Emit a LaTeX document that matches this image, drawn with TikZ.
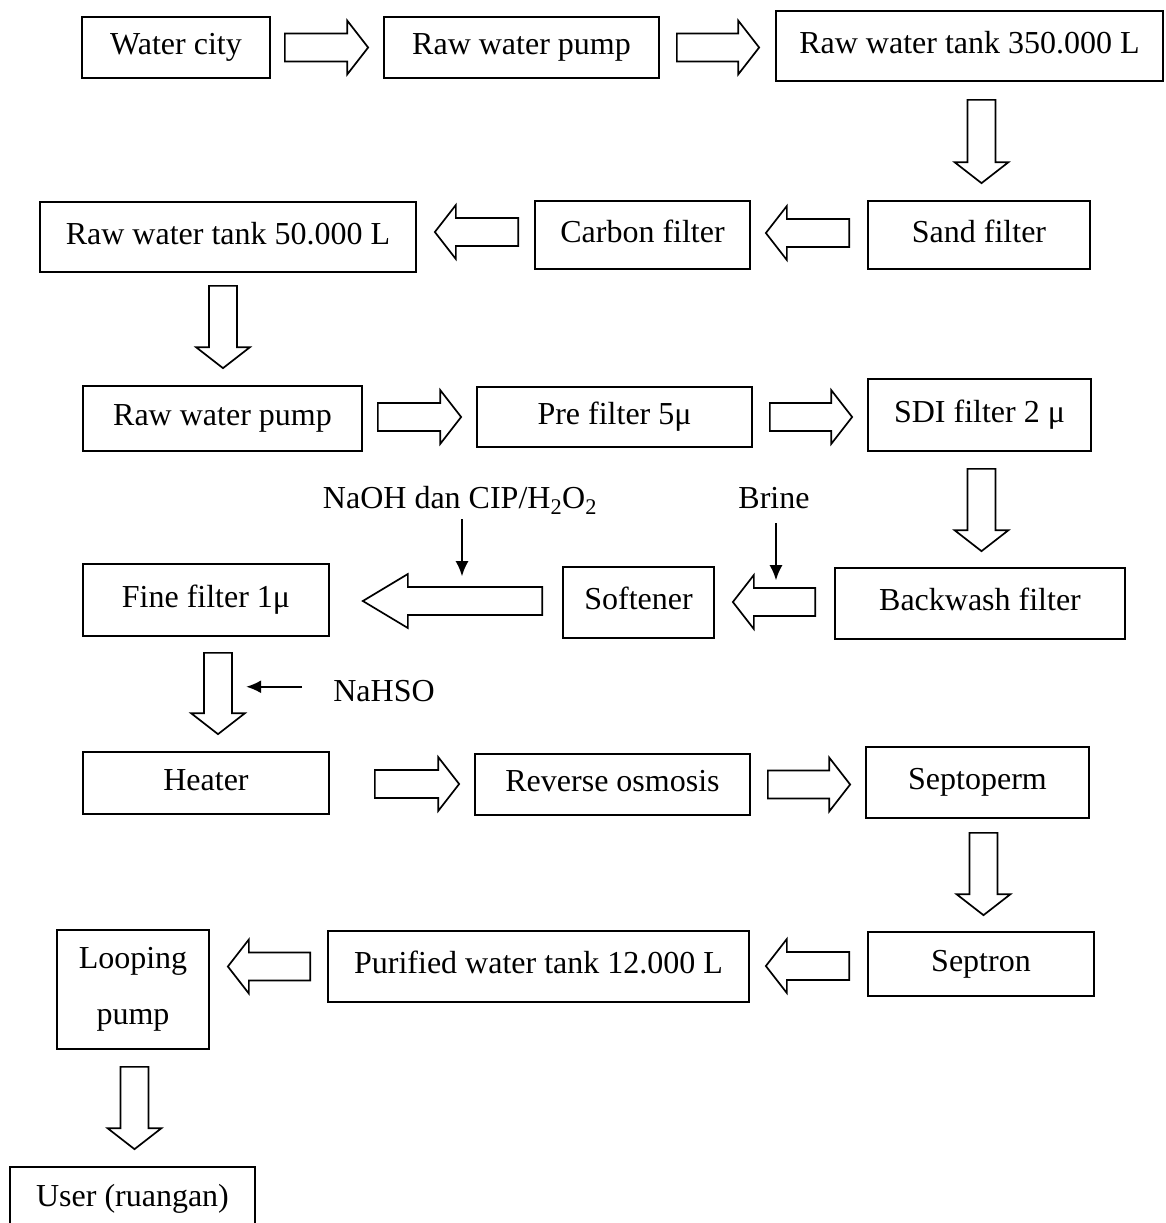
\documentclass[tikz,border=0pt]{standalone}
\usepackage{fontspec}
\setmainfont{Liberation Serif}
\usetikzlibrary{calc,arrows.meta}

\tikzset{
  box/.style={draw, line width=1.7pt, rectangle, inner sep=0pt, align=center},
  tbox/.style={box, text height=22pt, text depth=7.5pt},
  lbl/.style={inner sep=0pt, text height=22pt, text depth=7.5pt},
  barrow/.style={draw, line width=1.7pt, line join=miter, fill=white},
  feed/.style={line width=1.8pt, -{Latex[length=15pt,width=13pt]}},
}

% hollow block arrow: [head length]{start}{tip}{dx}{dy}, (dx,dy) = unit direction
\newcommand\blockarrow[5][21]{%
  \draw[barrow]
    ($(#2)+({-14*(#5)},{14*(#4)})$) --
    ($(#3)+({-(#1)*(#4)-14*(#5)},{-(#1)*(#5)+14*(#4)})$) --
    ($(#3)+({-(#1)*(#4)-27*(#5)},{-(#1)*(#5)+27*(#4)})$) --
    (#3) --
    ($(#3)+({-(#1)*(#4)+27*(#5)},{-(#1)*(#5)-27*(#4)})$) --
    ($(#3)+({-(#1)*(#4)+14*(#5)},{-(#1)*(#5)-14*(#4)})$) --
    ($(#2)+({14*(#5)},{-14*(#4)})$) -- cycle;
}

\begin{document}
\begin{tikzpicture}[x=1pt, y=-1pt, font=\fontsize{32}{38}\selectfont]
\clip (0,0) rectangle (1165,1223);

% process stations
\node[tbox, minimum width=188, minimum height=61] (wc)   at (176,47.5)   {Water city};
\node[tbox, minimum width=275, minimum height=61] (rwp1) at (521.5,47.5) {Raw water pump};
\node[tbox, minimum width=387, minimum height=70] (t350) at (969.5,46)   {Raw water tank 350.000 L};

\node[tbox, minimum width=222, minimum height=68] (sand)   at (979,235)   {Sand filter};
\node[tbox, minimum width=215, minimum height=68] (carbon) at (642.5,235) {Carbon filter};
\node[tbox, minimum width=376, minimum height=70] (t50)    at (228,237)   {Raw water tank 50.000 L};

\node[tbox, minimum width=279, minimum height=65] (rwp2) at (222.5,418.5) {Raw water pump};
\node[tbox, minimum width=275, minimum height=60] (pre)  at (614.5,417)   {Pre filter 5μ};
\node[tbox, minimum width=223, minimum height=72] (sdi)  at (979.5,415)   {SDI filter 2 μ};

\node[tbox, minimum width=290, minimum height=71] (backwash) at (980,603.5)   {Backwash filter};
\node[tbox, minimum width=151, minimum height=71] (softener) at (638.5,602.5) {Softener};
\node[tbox, minimum width=246, minimum height=72] (fine)     at (206,600)     {Fine filter 1μ};

\node[tbox, minimum width=246, minimum height=62] (heater)    at (206,783)     {Heater};
\node[tbox, minimum width=275, minimum height=61] (ro)        at (612.5,784.5) {Reverse osmosis};
\node[tbox, minimum width=223, minimum height=71] (septoperm) at (977.5,782.5) {Septoperm};

\node[tbox, minimum width=226, minimum height=64] (septron)  at (981,964)    {Septron};
\node[tbox, minimum width=421, minimum height=71] (purified) at (538.5,966.5) {Purified water tank 12.000 L};
\node[box, minimum width=152, minimum height=119, font=\fontsize{32}{56}\selectfont]
      (looping) at (133,989.5) {Looping\\pump};

\node[tbox, minimum width=245, minimum height=65] (user) at (132.5,1199.5) {User (ruangan)};

% dosing labels
\node[lbl] (naoh)  at (460,500.75) {NaOH dan CIP/H\textsubscript{2}O\textsubscript{2}};
\node[lbl] (brine) at (774,500.75) {Brine};
\node[lbl] (nahso) at (384,693.75) {NaHSO};

% flow arrows
\coordinate (a1s) at ($(wc.east)+(14,0)$);
\coordinate (a1e) at ($(rwp1.west |- a1s)+(-15,0)$);
\blockarrow{a1s}{a1e}{1}{0}

\coordinate (a2s) at ($(rwp1.east)+(17,0)$);
\coordinate (a2e) at ($(t350.west |- a2s)+(-16,0)$);
\blockarrow{a2s}{a2e}{1}{0}

\coordinate (a3s) at ($(sand.north |- t350.south)+(2.5,18)$);
\coordinate (a3e) at ($(a3s |- sand.north)+(0,-17)$);
\blockarrow{a3s}{a3e}{0}{1}

\coordinate (a4s) at ($(sand.west)+(-18,-2)$);
\coordinate (a4e) at ($(carbon.east |- a4s)+(15,0)$);
\blockarrow{a4s}{a4e}{-1}{0}

\coordinate (a5s) at ($(carbon.west)+(-16,-3)$);
\coordinate (a5e) at ($(t50.east |- a5s)+(18,0)$);
\blockarrow{a5s}{a5e}{-1}{0}

\coordinate (a6s) at ($(t50.south)+(-5,13)$);
\coordinate (a6e) at ($(a6s |- rwp2.north)+(0,-17)$);
\blockarrow{a6s}{a6e}{0}{1}

\coordinate (a7s) at ($(rwp2.east)+(15,-1.5)$);
\coordinate (a7e) at ($(pre.west |- a7s)+(-15,0)$);
\blockarrow{a7s}{a7e}{1}{0}

\coordinate (a8s) at ($(pre.east)+(17,0)$);
\coordinate (a8e) at ($(sdi.west |- a8s)+(-15,0)$);
\blockarrow{a8s}{a8e}{1}{0}

\coordinate (a9s) at ($(sdi.south)+(2,17)$);
\coordinate (a9e) at ($(a9s |- backwash.north)+(0,-16)$);
\blockarrow{a9s}{a9e}{0}{1}

\coordinate (a10s) at ($(backwash.west)+(-19,-1.5)$);
\coordinate (a10e) at ($(softener.east |- a10s)+(18,0)$);
\blockarrow{a10s}{a10e}{-1}{0}

\coordinate (a11s) at ($(softener.west)+(-20,-1.5)$);
\coordinate (a11e) at ($(fine.east |- a11s)+(33,0)$);
\blockarrow[45]{a11s}{a11e}{-1}{0}

\coordinate (a12s) at ($(fine.south)+(12,16)$);
\coordinate (a12e) at ($(a12s |- heater.north)+(0,-17)$);
\blockarrow{a12s}{a12e}{0}{1}

\coordinate (a13s) at ($(heater.east)+(45,1)$);
\coordinate (a13e) at ($(ro.west |- a13s)+(-15,0)$);
\blockarrow{a13s}{a13e}{1}{0}

\coordinate (a14s) at ($(ro.east)+(17,0)$);
\coordinate (a14e) at ($(septoperm.west |- a14s)+(-15,0)$);
\blockarrow{a14s}{a14e}{1}{0}

\coordinate (a15s) at ($(septoperm.south)+(6,14)$);
\coordinate (a15e) at ($(a15s |- septron.north)+(0,-16)$);
\blockarrow{a15s}{a15e}{0}{1}

\coordinate (a16s) at ($(septron.west)+(-18,2)$);
\coordinate (a16e) at ($(purified.east |- a16s)+(16,0)$);
\blockarrow{a16s}{a16e}{-1}{0}

\coordinate (a17s) at ($(purified.west)+(-17,0)$);
\coordinate (a17e) at ($(looping.east |- a17s)+(18,0)$);
\blockarrow{a17s}{a17e}{-1}{0}

\coordinate (a18s) at ($(looping.south)+(1.5,17)$);
\coordinate (a18e) at ($(a18s |- user.north)+(0,-17)$);
\blockarrow{a18s}{a18e}{0}{1}

% chemical dosing feeds
\draw[feed] ($(naoh.south)+(2,3.5)$) -- ++(0,57);
\draw[feed] ($(brine.south)+(2,7.5)$) -- ++(0,57);
\draw[feed] ($(nahso.west)+(-31,-7)$) -- ++(-56,0);
\end{tikzpicture}
\end{document}
